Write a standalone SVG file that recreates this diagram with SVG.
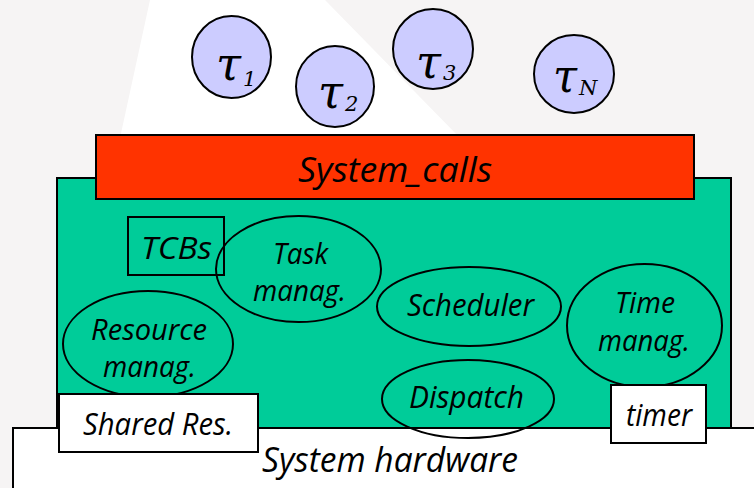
<svg xmlns="http://www.w3.org/2000/svg" width="754" height="488" viewBox="0 0 754 488">
  <style>
    .box { stroke: #000; stroke-width: 2; }
    .oval { fill: none; stroke: #000; stroke-width: 2; }
    .task { fill: #ccccff; stroke: #000; stroke-width: 2; }
    .lbl { font-family: "Open Sans", "Noto Sans", "DejaVu Sans", sans-serif; font-style: italic; fill: #000; text-anchor: start; }
    .tau { font-family: "DejaVu Serif", "Liberation Serif", serif; font-style: italic; fill: #000; }
  </style>

  <!-- backdrop -->
  <rect x="0" y="0" width="754" height="488" fill="#f6f4f4"/>
  <polygon points="150,0 325,0 460,138 120,138" fill="#ffffff"/>

  <!-- hardware layer -->
  <g id="hardware">
    <rect class="box" x="13" y="428" width="760" height="80" fill="#ffffff"/>
    <text class="lbl" x="262" y="472" font-size="34" textLength="256" lengthAdjust="spacingAndGlyphs">System hardware</text>
  </g>

  <!-- kernel body -->
  <g id="kernel">
    <rect class="box" x="57" y="178" width="674" height="250" fill="#00cc99"/>
  </g>

  <!-- system call interface -->
  <g id="system-calls">
    <rect class="box" x="96" y="135" width="598" height="64" fill="#ff3300"/>
    <text class="lbl" x="298" y="182" font-size="35" textLength="194" lengthAdjust="spacingAndGlyphs">System_calls</text>
  </g>

  <!-- kernel modules -->
  <g id="tcbs">
    <rect class="box" x="128" y="217" width="96" height="58" fill="none"/>
    <text class="lbl" x="141" y="259" font-size="31" textLength="71" lengthAdjust="spacingAndGlyphs">TCBs</text>
  </g>

  <g id="task-manag">
    <ellipse class="oval" cx="298.5" cy="269" rx="82.5" ry="53"/>
    <text class="lbl" x="273" y="264" font-size="29" textLength="55" lengthAdjust="spacingAndGlyphs">Task</text>
    <text class="lbl" x="253" y="301" font-size="29" textLength="93" lengthAdjust="spacingAndGlyphs">manag.</text>
  </g>

  <g id="resource-manag">
    <ellipse class="oval" cx="148" cy="344" rx="85" ry="53"/>
    <text class="lbl" x="91" y="340" font-size="30" textLength="116" lengthAdjust="spacingAndGlyphs">Resource</text>
    <text class="lbl" x="103" y="377" font-size="30" textLength="93" lengthAdjust="spacingAndGlyphs">manag.</text>
  </g>

  <g id="scheduler">
    <ellipse class="oval" cx="469" cy="306.5" rx="92" ry="39.5"/>
    <text class="lbl" x="407" y="316" font-size="31" textLength="127" lengthAdjust="spacingAndGlyphs">Scheduler</text>
  </g>

  <g id="time-manag">
    <ellipse class="oval" cx="644.5" cy="325.5" rx="77.5" ry="61.5"/>
    <text class="lbl" x="615" y="313" font-size="30" textLength="60" lengthAdjust="spacingAndGlyphs">Time</text>
    <text class="lbl" x="598" y="351" font-size="30" textLength="92" lengthAdjust="spacingAndGlyphs">manag.</text>
  </g>

  <g id="dispatch">
    <ellipse class="oval" cx="468" cy="399" rx="86" ry="39"/>
    <text class="lbl" x="409" y="408" font-size="31" textLength="115" lengthAdjust="spacingAndGlyphs">Dispatch</text>
  </g>

  <g id="shared-res">
    <rect class="box" x="59" y="394" width="199" height="58" fill="#ffffff"/>
    <text class="lbl" x="83" y="435" font-size="31" textLength="150" lengthAdjust="spacingAndGlyphs">Shared Res.</text>
  </g>

  <g id="timer">
    <rect class="box" x="611" y="385" width="95" height="58" fill="#ffffff"/>
    <text class="lbl" x="626" y="426" font-size="31" textLength="66" lengthAdjust="spacingAndGlyphs">timer</text>
  </g>

  <!-- application tasks -->
  <g id="task-1">
    <ellipse class="task" cx="231.5" cy="57" rx="39.5" ry="41"/>
    <text class="tau" x="216" y="80" font-size="46" textLength="25" lengthAdjust="spacingAndGlyphs">τ</text>
    <text class="tau" x="243" y="86" font-size="21">1</text>
  </g>
  <g id="task-2">
    <ellipse class="task" cx="335" cy="86.5" rx="39" ry="40.5"/>
    <text class="tau" x="318" y="108" font-size="46" textLength="25" lengthAdjust="spacingAndGlyphs">τ</text>
    <text class="tau" x="345" y="111" font-size="21">2</text>
  </g>
  <g id="task-3">
    <ellipse class="task" cx="433" cy="49" rx="40" ry="40"/>
    <text class="tau" x="416" y="78" font-size="46" textLength="25" lengthAdjust="spacingAndGlyphs">τ</text>
    <text class="tau" x="443" y="80" font-size="21">3</text>
  </g>
  <g id="task-n">
    <ellipse class="task" cx="574" cy="74" rx="40" ry="39"/>
    <text class="tau" x="553" y="92" font-size="46" textLength="24" lengthAdjust="spacingAndGlyphs">τ</text>
    <text class="tau" x="579" y="95" font-size="21">N</text>
  </g>

  <!-- no connectors in this layout -->
  <g id="connectors"/>
</svg>
